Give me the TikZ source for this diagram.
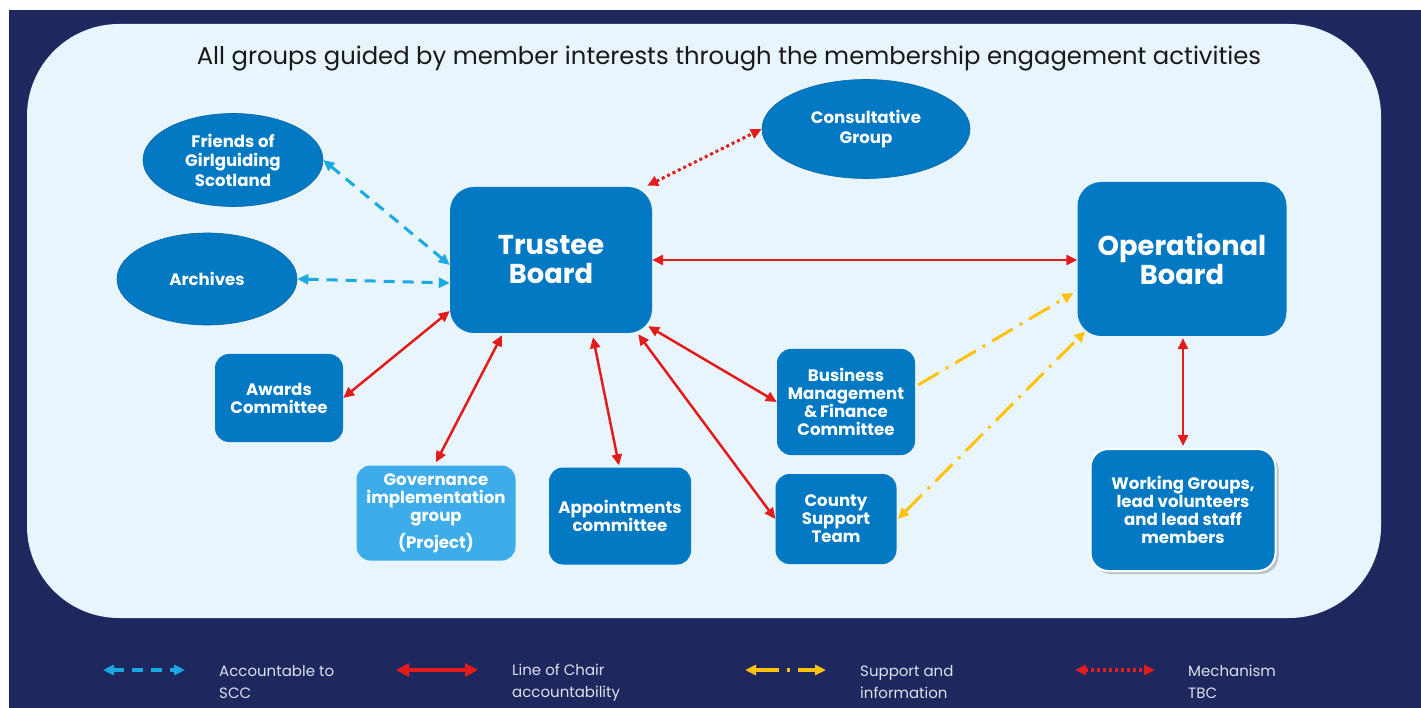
\documentclass[tikz,border=0pt]{standalone}
\usepackage{fontspec}
\setmainfont{Poppins}
\usetikzlibrary{arrows.meta,shapes.geometric,shadows}
\definecolor{navy}{RGB}{30,40,94}
\definecolor{panel}{RGB}{232,245,253}
\definecolor{boxblue}{RGB}{2,121,194}
\definecolor{lightbox}{RGB}{62,172,233}
\definecolor{cyanar}{RGB}{27,169,225}
\definecolor{redar}{RGB}{226,27,27}
\definecolor{yellowar}{RGB}{255,194,14}
\definecolor{legtext}{RGB}{222,224,234}
\begin{document}
\begin{tikzpicture}[x=1pt,y=-1pt,
  nodetext/.style={text=white, align=center, inner sep=0pt, font=\fontsize{16.6}{18}\selectfont\bfseries},
  box/.style={nodetext, fill=boxblue, rounded corners=14pt},
  bigbox/.style={box, rounded corners=24pt, font=\fontsize{27.3}{29}\selectfont\bfseries},
  oval/.style={nodetext, ellipse, fill=boxblue, draw=boxblue!85!black, line width=0.6pt, font=\fontsize{16.6}{19.5}\selectfont\bfseries},
  accline/.style={draw=cyanar, line width=3pt, dash pattern=on 11pt off 8pt, {Triangle[length=11pt,width=10pt]}-{Triangle[length=11pt,width=10pt]}},
  chairline/.style={draw=redar, line width=2.5pt, {Triangle[length=11pt,width=10pt]}-{Triangle[length=11pt,width=10pt]}},
  supline/.style={draw=yellowar, line width=3pt, dash pattern=on 24pt off 8pt on 3pt off 8pt, -{Triangle[length=11pt,width=10pt]}},
  supboth/.style={supline, {Triangle[length=11pt,width=10pt]}-{Triangle[length=11pt,width=10pt]}},
  mechline/.style={draw=redar, line width=3pt, dash pattern=on 3pt off 3pt, {Triangle[length=11pt,width=10pt]}-{Triangle[length=11pt,width=10pt]}},
  legtxt/.style={text=legtext, anchor=north west, align=left, inner sep=0pt, font=\fontsize{15}{22}\selectfont}
]
\useasboundingbox (0,0) rectangle (1421,708);
\fill[white] (0,0) rectangle (1421,708);
\fill[navy] (9,10) rectangle (1421,708);
\fill[panel, rounded corners=92pt] (27,24) rectangle (1381,618);

\node[font=\fontsize{24.3}{28}\selectfont, text=black!90] (title) at (729,59) {All groups guided by member interests through the membership engagement activities};

% nodes
\node[oval, minimum width=180pt, minimum height=93pt] (fr) at (233,160) {Friends of\\Girlguiding\\Scotland};
\node[oval, minimum width=180pt, minimum height=92pt] (ar) at (207,279) {Archives};
\node[oval, minimum width=208pt, minimum height=99pt] (cg) at (866,129) {Consultative\\Group};
\node[bigbox, minimum width=202pt, minimum height=146pt] (tb) at (551,260) {Trustee\\Board};
\node[bigbox, minimum width=209pt, minimum height=154pt] (ob) at (1182,259) {Operational\\Board};
\node[box, minimum width=128pt, minimum height=88pt] (aw) at (279,398) {Awards\\Committee};
\node[box, fill=lightbox, minimum width=159pt, minimum height=95pt] (gov) at (436,513) {Governance\\implementation\\group\\[6pt](Project)};
\node[box, minimum width=142pt, minimum height=97pt] (ap) at (620,516) {Appointments\\committee};
\node[box, minimum width=138pt, minimum height=106pt] (bm) at (846,402) {Business\\Management\\\&\,Finance\\Committee};
\node[box, minimum width=121pt, minimum height=90pt] (cs) at (836,519) {County\\Support\\Team};
\node[box, rounded corners=18pt, draw=white, line width=2pt, minimum width=185pt, minimum height=122pt,
      drop shadow={shadow xshift=3pt, shadow yshift=-3pt, opacity=0.35, fill=black!60}] (wg) at (1183,510)
      {Working Groups,\\lead volunteers\\and lead staff\\members};

% connectors
\draw[accline] (fr.east) -- ([yshift=-5pt]tb.west);
\draw[accline] (ar.east) -- ([yshift=-23pt]tb.west);
\draw[mechline] ([xshift=-5pt,yshift=1pt]tb.north east) -- (cg.west);
\draw[chairline] (tb.east) -- (tb.east -| ob.west);
\draw[chairline] (aw.east) -- ([yshift=-51pt]tb.west);
\draw[chairline] ([yshift=3pt]gov.north) -- ([xshift=-49pt,yshift=-2pt]tb.south);
\draw[chairline] ([xshift=-1pt,yshift=2pt]ap.north) -- ([xshift=42pt,yshift=-4pt]tb.south);
\draw[chairline] (bm.west) -- ([xshift=-4pt,yshift=7pt]tb.south east);
\draw[chairline] (cs.west) -- ([xshift=-14pt,yshift=-1pt]tb.south east);
\draw[supline] ([xshift=3pt,yshift=17pt]bm.east) -- ([xshift=-4pt,yshift=-34pt]ob.west);
\draw[supboth] ([xshift=1pt]cs.east) -- ([xshift=8pt,yshift=5pt]ob.south west);
\draw[chairline] ([xshift=1pt,yshift=-2pt]ob.south) -- ([yshift=2pt]wg.north);

% legend
\coordinate (l1a) at (103,670); \coordinate (l1b) at (185,670);
\coordinate (l2a) at (396,670); \coordinate (l2b) at (478,670);
\coordinate (l3a) at (745,670); \coordinate (l3b) at (826,670);
\coordinate (l4a) at (1075,670); \coordinate (l4b) at (1155,670);
\draw[accline, line width=4pt] (l1a) -- (l1b);
\draw[chairline, line width=4.5pt, {Triangle[length=13pt,width=13pt]}-{Triangle[length=13pt,width=13pt]}] (l2a) -- (l2b);
\draw[supboth, line width=4pt] (l3a) -- (l3b);
\draw[mechline, line width=4pt] (l4a) -- (l4b);
\node[legtxt] (t1) at (219,665) {Accountable to\\SCC};
\node[legtxt] (t2) at (512,664) {Line of Chair\\accountability};
\node[legtxt] (t3) at (860,665) {Support and\\information};
\node[legtxt] (t4) at (1188,665) {Mechanism\\TBC};
\end{tikzpicture}
\end{document}
